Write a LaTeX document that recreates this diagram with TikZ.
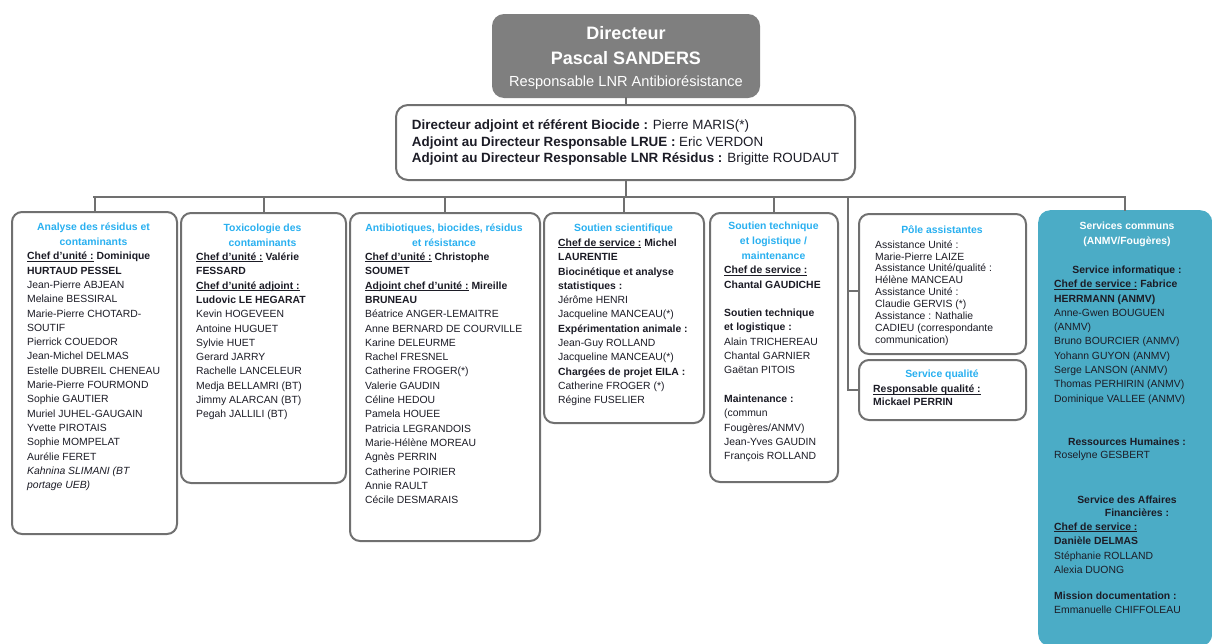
\documentclass[tikz,border=0pt]{standalone}
\usepackage{fontspec}
\setmainfont{Liberation Sans}

\definecolor{linegray}{RGB}{112,112,112}
\definecolor{dirgray}{RGB}{127,127,127}
\definecolor{titleblue}{RGB}{41,176,240}
\definecolor{commteal}{RGB}{75,172,198}
\definecolor{bodyink}{RGB}{28,28,38}

\newsavebox{\lblbox}
\newcommand{\lbl}[1]{\sbox{\lblbox}{\textbf{#1}}\rlap{\rule[-1.7pt]{\wd\lblbox}{0.8pt}}\usebox{\lblbox}}
\newcommand{\bodyfont}{\fontsize{10.4}{14.3}\selectfont}
\newcommand{\titlefont}{\fontsize{10.4}{15}\selectfont\bfseries}

\tikzset{
  link/.style={draw=linegray, line width=2pt, line cap=rect},
  dirbox/.style={fill=dirgray, rounded corners=12pt, inner sep=0pt,
    minimum width=268pt, minimum height=84pt, align=center, text=white,
    font=\fontsize{18}{25}\selectfont\bfseries},
  adjbox/.style={draw=linegray, line width=2pt, rounded corners=12pt, fill=white,
    inner sep=0pt, minimum width=459pt, minimum height=75pt, align=left,
    text=bodyink, font=\fontsize{13.4}{16.5}\selectfont},
  unitbox/.style={draw=linegray, line width=2pt, rounded corners=10pt,
    fill=white, inner sep=0pt, anchor=north west},
  communbox/.style={fill=commteal, rounded corners=12pt, inner sep=0pt,
    anchor=north west},
  unittitle/.style={anchor=north, align=center, inner sep=0pt,
    text=titleblue, font=\titlefont},
  unitbody/.style={anchor=north west, align=left, inner sep=0pt,
    text=bodyink, font=\bodyfont},
}

\begin{document}
\begin{tikzpicture}[x=1pt,y=-1pt]
\useasboundingbox (0,0) rectangle (1212,643);

% direction
\node[dirbox] (dir) at (626,56) {\rule{0pt}{17pt}Directeur\\Pascal SANDERS\\[-3pt]{\fontsize{14.6}{24}\selectfont\mdseries Responsable LNR Antibiorésistance}};
\node[adjbox] (adj) at (625.5,142.5) {\textbf{Directeur adjoint et référent Biocide :} Pierre MARIS(*)\\
  \textbf{Adjoint au Directeur Responsable LRUE :} Eric VERDON\\
  \textbf{Adjoint au Directeur Responsable LNR Résidus :} Brigitte ROUDAUT};

% bus
\coordinate (busL) at (93.5,197);
\coordinate (busR) at (1125,197);
\coordinate (side) at (848,197);
\draw[link] (dir.south) -- (dir.south |- adj.north);
\draw[link] (adj.south) -- (adj.south |- busL);
\draw[link] (busL) -- (busR);

% units
\node[unitbox, minimum width=165pt, minimum height=322pt] (residus) at (11,211) {};
\node[unitbox, minimum width=165pt, minimum height=270pt] (toxico) at (180,212) {};
\node[unitbox, minimum width=190pt, minimum height=328pt] (antibio) at (349,212) {};
\node[unitbox, minimum width=160pt, minimum height=210pt] (scient) at (543,212) {};
\node[unitbox, minimum width=128pt, minimum height=269pt] (technique) at (709,212) {};
\node[unitbox, minimum width=167pt, minimum height=140pt] (assist) at (858,213) {};
\node[unitbox, minimum width=167pt, minimum height=60pt] (qualite) at (858,359) {};
\node[communbox, minimum width=174pt, minimum height=436pt] (communs) at (1038,210) {};

\foreach \u in {residus,toxico,antibio,scient,technique,communs}
  \draw[link] (\u.north) -- (\u.north |- busL);
\draw[link] (side) |- (qualite.west);
\draw[link] ([yshift=-7pt]assist.west) -- ([yshift=-7pt]assist.west -| side);

% residus
\node[unittitle] (residus-t) at (93.5,222.7) {Analyse des résidus et\\contaminants};
\node[unitbody] (residus-b) at (27,252) {\lbl{Chef d’unité :} \textbf{Dominique}\\
  \textbf{HURTAUD PESSEL}\\
  Jean-Pierre ABJEAN\\
  Melaine BESSIRAL\\
  Marie-Pierre CHOTARD-\\
  SOUTIF\\
  Pierrick COUEDOR\\
  Jean-Michel DELMAS\\
  Estelle DUBREIL CHENEAU\\
  Marie-Pierre FOURMOND\\
  Sophie GAUTIER\\
  Muriel JUHEL-GAUGAIN\\
  Yvette PIROTAIS\\
  Sophie MOMPELAT\\
  Aurélie FERET\\
  \textit{Kahnina SLIMANI (BT}\\
  \textit{portage UEB)}};

% toxicologie
\node[unittitle] (toxico-t) at (262.5,223.7) {Toxicologie des\\contaminants};
\node[unitbody] (toxico-b) at (196,252.7) {\lbl{Chef d’unité :} \textbf{Valérie}\\
  \textbf{FESSARD}\\
  \lbl{Chef d’unité adjoint :}\\
  \textbf{Ludovic LE HEGARAT}\\
  Kevin HOGEVEEN\\
  Antoine HUGUET\\
  Sylvie HUET\\
  Gerard JARRY\\
  Rachelle LANCELEUR\\
  Medja BELLAMRI (BT)\\
  Jimmy ALARCAN (BT)\\
  Pegah JALLILI (BT)};

% antibiotiques
\node[unittitle] (antibio-t) at (444,223.7) {Antibiotiques, biocides, résidus\\et résistance};
\node[unitbody] (antibio-b) at (365,252.7) {\lbl{Chef d’unité :} \textbf{Christophe}\\
  \textbf{SOUMET}\\
  \lbl{Adjoint chef d’unité :} \textbf{Mireille}\\
  \textbf{BRUNEAU}\\
  Béatrice ANGER-LEMAITRE\\
  Anne BERNARD DE COURVILLE\\
  Karine DELEURME\\
  Rachel FRESNEL\\
  Catherine FROGER(*)\\
  Valerie GAUDIN\\
  Céline HEDOU\\
  Pamela HOUEE\\
  Patricia LEGRANDOIS\\
  Marie-Hélène MOREAU\\
  Agnès PERRIN\\
  Catherine POIRIER\\
  Annie RAULT\\
  Cécile DESMARAIS};

% soutien scientifique
\node[unittitle] (scient-t) at (623.5,223.7) {Soutien scientifique};
\node[unitbody] (scient-b) at (558,238.7) {\lbl{Chef de service :} \textbf{Michel}\\
  \textbf{LAURENTIE}\\
  \textbf{Biocinétique et analyse}\\
  \textbf{statistiques :}\\
  Jérôme HENRI\\
  Jacqueline MANCEAU(*)\\
  \textbf{Expérimentation animale :}\\
  Jean-Guy ROLLAND\\
  Jacqueline MANCEAU(*)\\
  \textbf{Chargées de projet EILA :}\\
  Catherine FROGER (*)\\
  Régine FUSELIER};

% soutien technique
\node[unittitle] (technique-t) at (773.5,221.7) {Soutien technique\\et logistique /\\maintenance};
\node[unitbody] (technique-b) at (724,266) {\lbl{Chef de service :}\\
  \textbf{Chantal GAUDICHE}\\[14.3pt]
  \textbf{Soutien technique}\\
  \textbf{et logistique :}\\
  Alain TRICHEREAU\\
  Chantal GARNIER\\
  Gaëtan PITOIS\\[14.3pt]
  \textbf{Maintenance :}\\
  (commun\\
  Fougères/ANMV)\\
  Jean-Yves GAUDIN\\
  François ROLLAND};

% assistantes et qualite
\node[unittitle] (assist-t) at (942,225.3) {Pôle assistantes};
\node[unitbody, font=\fontsize{10.4}{11.9}\selectfont] (assist-b) at (875,240.3) {Assistance Unité :\\
  Marie-Pierre LAIZE\\
  Assistance Unité/qualité :\\
  Hélène MANCEAU\\
  Assistance Unité :\\
  Claudie GERVIS (*)\\
  Assistance : Nathalie\\
  CADIEU (correspondante\\
  communication)};
\node[unittitle] (qualite-t) at (942,369.3) {Service qualité};
\node[unitbody, font=\fontsize{10.4}{12.7}\selectfont] (qualite-b) at (873,385) {\lbl{Responsable qualité :}\\
  \textbf{Mickael PERRIN}};

% services communs
\node[unittitle, text=white] (communs-t) at (1127,221.7) {Services communs\\(ANMV/Fougères)};
\node[unittitle, text=bodyink] (info-h) at (1127,266) {Service informatique :};
\node[unitbody] (info-b) at (1054,280) {\lbl{Chef de service :} \textbf{Fabrice}\\
  \textbf{HERRMANN (ANMV)}\\
  Anne-Gwen BOUGUEN\\
  (ANMV)\\
  Bruno BOURCIER (ANMV)\\
  Yohann GUYON (ANMV)\\
  Serge LANSON (ANMV)\\
  Thomas PERHIRIN (ANMV)\\
  Dominique VALLEE (ANMV)};
\node[unittitle, text=bodyink] (rh-h) at (1127,437.7) {Ressources Humaines :};
\node[unitbody] (rh-b) at (1054,451) {Roselyne GESBERT};
\node[unittitle, text=bodyink, font=\fontsize{10.4}{13.4}\selectfont\bfseries] (saf-h) at (1127,495.3) {Service des Affaires\\\hspace*{20pt}Financières :};
\node[unitbody] (saf-b) at (1054,522.7) {\lbl{Chef de service :}\\
  \textbf{Danièle DELMAS}\\
  Stéphanie ROLLAND\\
  Alexia DUONG\\[11.7pt]
  \textbf{Mission documentation :}\\
  Emmanuelle CHIFFOLEAU};

\end{tikzpicture}
\end{document}
